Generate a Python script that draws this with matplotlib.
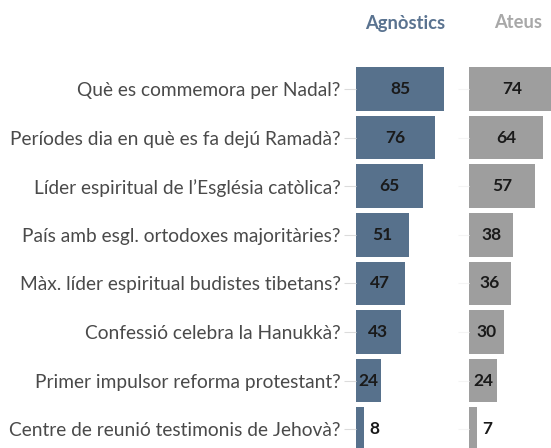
import matplotlib.pyplot as plt

preguntes = ['Què es commemora per Nadal?',
             'Períodes dia en què es fa dejú Ramadà?',
             'Líder espiritual de l\u2019Església catòlica?',
             'País amb esgl. ortodoxes majoritàries?',
             'Màx. líder espiritual budistes tibetans?',
             'Confessió celebra la Hanukkà?',
             'Primer impulsor reforma protestant?',
             'Centre de reunió testimonis de Jehovà?']
agnostics = [85, 76, 65, 51, 47, 43, 24, 8]
ateus = [74, 64, 57, 38, 36, 30, 24, 7]

plt.rcParams['font.family'] = ['Lato', 'DejaVu Sans']

W, H = 551, 448
fig = plt.figure(figsize=(W / 100, H / 100), dpi=100)

row = 48.6
top = 89 - row / 2
h = row * 8
bottom = H - (top + h)

def panel(left, px_per_unit, vals, color, tcolor, title, tx, labels):
    width = 120
    ax = fig.add_axes([left / W, bottom / H, width / W, h / H])
    ax.barh(range(len(vals)), vals, height=0.9, color=color)
    ax.set_xlim(0, width / px_per_unit)
    ax.set_ylim(len(vals) - 0.5, -0.5)
    for s in ax.spines.values():
        s.set_visible(False)
    ax.set_xticks([])
    ax.set_yticks(range(len(vals)))
    if labels:
        ax.set_yticklabels(preguntes, fontsize=13.8, color='#4a4a4a')
        ax.tick_params(axis='y', length=9, color='#dcdcdc', pad=2)
    else:
        ax.set_yticklabels([])
        ax.tick_params(axis='y', length=8, color='#f4f4f4')
    for i, v in enumerate(vals):
        if v >= 15:
            ax.text(v / 2, i, str(v), ha='center', va='center',
                    fontsize=12.5, fontweight='bold', color='#1a1a1a')
        else:
            ax.text(v + 5 / px_per_unit, i, str(v), ha='left', va='center',
                    fontsize=12.5, fontweight='bold', color='#1a1a1a')
    fig.text(tx / W, 1 - 23 / H, title, ha='center', va='center',
             fontsize=13.2, fontweight='bold', color=tcolor)
    return ax

panel(356, 1.035, agnostics, '#57718c', '#5a7390', 'Agnòstics', 405, True)
panel(469, 1.16, ateus, '#9e9e9e', '#a8a8a8', 'Ateus', 518, False)

fig.savefig('out.png', dpi=100)
